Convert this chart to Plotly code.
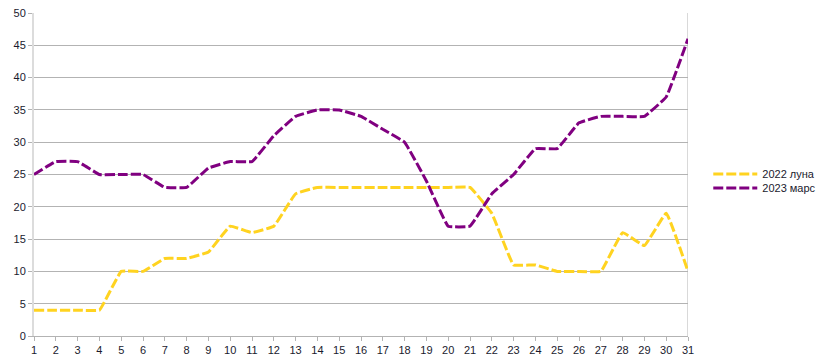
import plotly.graph_objects as go

days = list(range(1, 32))
luna_2022 = [4, 4, 4, 4, 10, 10, 12, 12, 13, 17, 16, 17, 22, 23, 23, 23, 23, 23, 23, 23, 23, 19, 11, 11, 10, 10, 10, 16, 14, 19, 10]
mars_2023 = [25, 27, 27, 25, 25, 25, 23, 23, 26, 27, 27, 31, 34, 35, 35, 34, 32, 30, 24, 17, 17, 22, 25, 29, 29, 33, 34, 34, 34, 37, 46]
names = ["2022 луна", "2023 марс"]
colors = ["#FFD320", "#800080"]
legends = ["legend", "legend2"]

fig = go.Figure()
for name, vals, col, lg in zip(names, [luna_2022, mars_2023], colors, legends):
    fig.add_trace(go.Scatter(
        x=days, y=vals, name=name, mode="lines", legend=lg,
        line=dict(color=col, width=3, dash="10px,3px", shape="spline", smoothing=0.25),
    ))

leg_common = dict(x=1.031, xanchor="left", yanchor="middle",
                  font=dict(size=11, color="#1a1a2e"), itemwidth=44,
                  bgcolor="rgba(0,0,0,0)")
fig.update_layout(
    width=820, height=363,
    margin=dict(l=34, r=132, t=13, b=27, autoexpand=False),
    paper_bgcolor="white", plot_bgcolor="white",
    font=dict(family="Liberation Sans, Arial, sans-serif", size=11, color="#1a1a2e"),
    showlegend=True,
    legend=dict(y=0.5015, **leg_common),
    legend2=dict(y=0.458, **leg_common),
)
fig.update_xaxes(range=[1, 31], tickmode="linear", tick0=1, dtick=1,
                 showgrid=False, showline=True, linecolor="#b3b3b3", linewidth=1,
                 ticks="outside", ticklen=4, tickcolor="#b3b3b3", mirror=False,
                 zeroline=False, automargin=False)
fig.update_yaxes(range=[0, 50], tickmode="linear", tick0=0, dtick=5,
                 showgrid=True, gridcolor="#b3b3b3", gridwidth=1,
                 showline=True, linecolor="#dcdcdc", linewidth=2,
                 ticks="outside", ticklen=4, tickcolor="#b3b3b3",
                 zeroline=False, automargin=False)
# right border line of plot area
fig.add_shape(type="line", xref="x", yref="paper", x0=31, x1=31, y0=0, y1=1,
              line=dict(color="#b3b3b3", width=1), layer="below")

fig.write_html("out.html", config={"displayModeBar": False},
               post_script="document.body.style.margin='0px';")
